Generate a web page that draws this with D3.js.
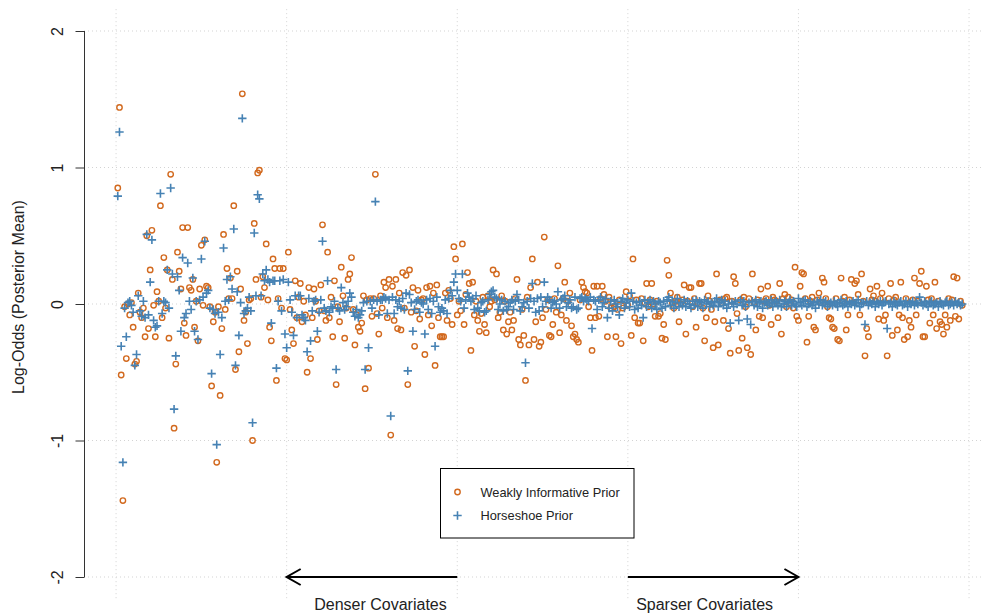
<!DOCTYPE html>
<html>
<head>
<meta charset="utf-8">
<script src="https://cdn.jsdelivr.net/npm/d3@7"></script>
<style>
  body { margin: 0; background: #fff; }
  text { font-family: "Liberation Sans", Arial, Helvetica, sans-serif; }
</style>
</head>
<body>
<svg id="chart"></svg>
<script>
// posterior means per covariate (ordered dense -> sparse)
const weakly = [
  .85, 1.44, -.52, -1.44, -.02, -.40, .00, -.08, .01, -.17,
  -.44, -.42, .08, -.06, -.10, -.03, -.24, .50, -.18, .25,
  .54, -.01, -.24, .09, .02, .72, -.10, .34, -.03, .25,
  -.25, .95, .18, -.91, -.44, .38, .24, .11, .56, -.14,
  -.23, .56, .12, .10, .18, -.17, .02, -.27, .11, .43,
  -.01, .47, .13, .12, -.02, -.60, -.13, -.06, -1.16, -.02,
  -.67, -.18, .51, -.04, .26, .04, .19, .04, .72, -.48,
  .24, -.35, .11, 1.54, -.12, -.06, -.29, .03, .04, -1.00,
  .59, .18, .96, .98, .05, .20, .12, .44, .03, -.17,
  -.27, .33, .26, -.56, .04, .26, -.03, .26, -.40, -.41,
  .38, -.04, -.19, -.29, .17, -.10, .05, .15, -.13, .02,
  -.08, -.50, .12, -.40, -.10, .11, .02, -.26, -.05, .14,
  .58, -.05, -.12, .38, -.10, .05, -.24, .17, -.59, -.02,
  -.13, .27, .06, -.25, -.03, .18, .22, .34, -.04, -.30,
  -.08, -.17, -.20, -.14, .06, -.62, .03, -.47, .04, -.09,
  .04, .95, -.07, -.22, .06, -.03, .16, .12, -.10, .18,
  -.96, .13, -.12, .18, -.18, .08, -.19, .23, -.03, .21,
  -.59, .25, -.06, .12, -.31, -.05, .10, -.11, .03, .04,
  -.37, .12, -.08, .13, -.16, .08, -.45, .14, -.10, -.24,
  -.24, -.24, .08, -.12, .10, .04, -.15, .42, .33, -.08,
  .02, -.05, .44, -.15, .07, .23, .15, -.34, .16, -.08,
  .02, -.12, -.20, -.07, .05, -.15, -.21, .06, -.02, .02,
  .25, .03, .22, -.10, -.06, .06, -.19, .02, -.22, -.13,
  -.06, -.19, -.12, .04, .18, -.26, -.30, -.04, -.23, -.56,
  .05, -.30, .12, .33, -.26, -.13, .16, -.31, -.28, -.10,
  .49, -.04, .03, -.23, -.24, -.15, .04, -.06, .28, -.21,
  -.08, .04, .16, -.12, .02, .08, -.16, -.24, -.22, -.26,
  -.28, .03, .16, .12, .09, .08, -.02, -.10, -.34, .13,
  -.10, .13, -.09, .04, .13, .07, .02, -.24, .05, -.03,
  .01, -.02, -.24, -.04, .03, -.29, -.03, .02, .09, -.01,
  .06, -.23, .33, -.10, .03, -.14, -.14, .04, -.27, .01,
  .15, -.02, .03, .15, .00, -.09, .02, -.09, -.07, -.25,
  -.15, -.26, .32, .21, .08, .01, -.03, .02, .05, -.13,
  .00, .03, .14, -.22, .02, .12, .12, -.02, .04, -.17,
  .01, .15, .15, -.03, -.27, -.10, .06, .02, -.04, -.32,
  -.13, .22, -.30, .03, .01, -.12, .04, .05, -.18, -.36,
  .02, .20, .15, -.07, -.34, .03, -.25, .05, -.02, -.32,
  .04, -.37, .22, .01, -.19, .03, -.09, .11, -.10, .02,
  .04, .13, -.01, -.15, .05, .03, .02, -.10, .15, -.22,
  .04, .07, -.02, .05, .01, .03, -.03, .27, -.09, -.12,
  .13, .23, .22, .04, -.28, -.09, .02, .05, -.17, -.19,
  .03, .08, .01, .19, .16, .04, -.02, -.10, -.11, -.17,
  -.18, .04, -.26, -.27, .19, .02, .05, -.19, -.08, .03,
  .18, .01, .15, .17, .07, -.08, .22, .02, -.38, -.18,
  -.24, .11, .03, .06, .02, .13, -.11, .04, .08, -.12,
  -.08, -.38, .04, .15, -.23, .03, .05, -.19, -.08, .16,
  -.10, -.26, .04, -.24, -.12, -.17, .03, .19, -.08, .02,
  .15, .24, -.24, -.24, .13, .03, -.14, .04, -.08, .16,
  -.18, .02, -.13, -.15, -.22, -.08, -.17, .04, -.12, .03,
  .20, -.09, .19, -.11, .02, -.01
];

const horseshoe = [
  .79, 1.26, -.31, -1.16, -.03, -.24, .01, .02, -.01, -.06,
  -.45, -.37, .06, -.05, -.09, .02, -.10, .51, -.08, .16,
  .47, -.12, -.17, -.16, .02, .81, -.07, .02, .01, .25,
  -.03, .85, .22, -.77, -.38, .20, .10, -.20, .34, -.10,
  -.07, .30, .02, -.04, .19, -.20, .02, -.26, .03, .33,
  .05, .46, .08, .10, -.03, -.51, -.04, -.07, -1.03, -.06,
  -.37, -.10, .41, .02, .18, .03, .20, .11, .55, -.45,
  .09, -.23, .01, 1.36, -.07, -.05, -.03, .05, -.05, -.87,
  .52, .06, .80, .77, .06, .22, .17, .25, .18, .16,
  -.14, .17, .17, -.47, .02, .17, -.05, .18, -.22, -.32,
  .16, .03, -.06, -.23, .06, -.10, .06, .06, -.08, -.10,
  -.12, -.35, .04, -.27, -.05, .02, .03, -.20, -.06, .03,
  .46, -.03, -.05, .17, -.06, -.02, -.03, .02, -.48, -.03,
  -.05, .12, .01, -.04, -.02, .02, .08, .05, -.06, -.09,
  -.04, -.10, -.08, -.05, .01, -.48, .02, -.32, .02, -.03,
  .03, .75, .02, -.08, .03, .03, .05, .04, -.07, .03,
  -.82, .05, -.07, .03, -.02, .02, -.03, .04, -.04, .08,
  -.49, .07, .01, -.20, -.04, .02, .03, -.06, .01, .00,
  -.22, .03, -.04, .04, -.07, .02, -.31, .05, -.02, -.06,
  -.03, -.05, .03, -.07, .04, .10, .06, .16, .22, .10,
  .04, .02, .22, -.03, .03, .08, .05, .02, .04, -.04,
  .06, -.03, -.05, .01, .02, -.06, -.05, .03, .07, .09,
  .10, .05, .04, -.04, .00, .03, -.05, .02, -.04, -.02,
  .01, .03, -.04, .02, .07, .03, -.05, -.02, .01, -.43,
  .02, -.03, .04, .15, .02, -.06, .04, -.05, .05, -.02,
  .16, .02, .05, .03, -.03, .01, .02, .00, .09, -.03,
  .03, .04, .06, -.02, .01, .03, -.03, -.02, .05, -.04,
  -.03, .04, .05, .02, .04, .03, .02, .05, -.18, .03,
  .02, -.04, .03, .05, -.02, .01, .04, -.10, -.03, .02,
  -.05, .03, .00, -.02, -.08, .02, .04, -.03, .01, .03,
  -.02, .08, .02, -.04, .01, -.03, .02, -.01, -.10, .03,
  -.02, .01, .03, -.03, .02, .00, -.04, .02, .01, -.03,
  .02, -.02, .03, .05, -.01, .02, -.03, .01, .04, -.02,
  .01, -.01, .03, -.02, .02, .00, -.03, .02, -.01, .03,
  -.02, .02, .01, -.03, .03, .00, .02, -.02, .01, -.01,
  .02, .04, -.02, .01, .03, -.01, .02, -.03, .00, -.14,
  .01, -.02, .02, .00, -.12, .03, -.01, .02, -.02, -.11,
  .01, -.15, .02, -.01, .03, -.02, .01, .02, -.03, .01,
  .02, -.01, .00, .03, -.02, .01, .02, -.01, .03, -.02,
  .00, .02, -.02, .01, .03, -.01, .02, .00, -.02, .04,
  .01, -.01, .02, .03, -.02, .00, .02, -.01, .01, -.03,
  .02, .00, .03, -.01, .01, .02, -.02, .00, .01, -.01,
  .02, .00, -.02, .01, .03, -.01, .00, .02, -.02, .01,
  .00, .02, -.01, .01, .03, -.02, .00, .01, -.15, .02,
  -.01, .01, .00, .02, -.02, .01, .00, .02, -.01, .01,
  .02, -.18, .00, .01, -.02, .02, .00, -.01, .01, .02,
  -.01, .00, .02, -.02, .01, .00, .02, -.01, .01, .00,
  .05, .01, -.01, .02, .00, -.02, .01, .02, -.01, .00,
  .01, -.02, .02, .00, -.01, .01, .02, -.01, .00, .01,
  -.01, .02, .00, .01, -.01, .00
];

const yTicks = [-2, -1, 0, 1, 2];
const xGrid = [0, 100, 200, 300, 400, 500];
const seriesNames = ["Weakly Informative Prior", "Horseshoe Prior"];
const seriesColors = ["#D2691E", "#4682B4"];
const arrowSpans = [[200, 100], [300, 400]];   // from -> to, in covariate index
const arrowLabels = ["Denser Covariates", "Sparser Covariates"];
const arrowLabelAt = [155, 345];

const width = 984, height = 613;
const n = weakly.length;
const pad = 0.04 * (n - 1);

const svg = d3.select("#chart")
  .attr("width", width)
  .attr("height", height);

svg.append("rect").attr("width", width).attr("height", height).attr("fill", "#fff");

const x = d3.scaleLinear().domain([1 - pad, n + pad]).range([84, 996]);
const y = d3.scaleLinear().domain([-2, 2]).range([577, 31]);
const yTop = y(2.16), yBot = y(-2.16);

// grid
svg.append("g").selectAll("line")
  .data(xGrid)
  .join("line")
  .attr("x1", d => x(d)).attr("x2", d => x(d))
  .attr("y1", yTop).attr("y2", yBot)
  .attr("stroke", "#d3d3d3").attr("stroke-dasharray", "1,3");

svg.append("g").selectAll("line")
  .data(yTicks)
  .join("line")
  .attr("x1", x.range()[0]).attr("x2", x.range()[1])
  .attr("y1", d => y(d)).attr("y2", d => y(d))
  .attr("stroke", "#d3d3d3").attr("stroke-dasharray", "1,3");

// y axis (plain hyphen minus, like base R)
const yAxis = d3.axisLeft(y).tickValues(yTicks).tickSize(9).tickPadding(0).tickFormat(d => String(d));
const gY = svg.append("g")
  .attr("transform", "translate(" + (x.range()[0] + 0.5) + ",0)")
  .call(yAxis);
gY.select(".domain").attr("stroke", "#333").attr("d", "M0," + y(-2) + "V" + y(2));
gY.selectAll(".tick line").attr("stroke", "#333");
gY.selectAll(".tick text")
  .attr("x", null).attr("dy", null)
  .attr("transform", "translate(-22,0) rotate(-90)")
  .attr("text-anchor", "middle")
  .attr("font-size", 16)
  .attr("fill", "#222");

svg.append("text")
  .attr("transform", "translate(24,297) rotate(-90)")
  .attr("text-anchor", "middle")
  .attr("font-size", 16)
  .attr("fill", "#222")
  .text("Log-Odds (Posterior Mean)");

// points
const ptsW = weakly.map((v, i) => ({i: i + 1, v: v}));
const ptsH = horseshoe.map((v, i) => ({i: i + 1, v: v}));

svg.append("g").selectAll("circle")
  .data(ptsW)
  .join("circle")
  .attr("cx", d => x(d.i))
  .attr("cy", d => y(d.v))
  .attr("r", 2.7)
  .attr("fill", "none")
  .attr("stroke", seriesColors[0])
  .attr("stroke-width", 1.4);

const crossPath = s => "M" + (-s) + ",0H" + s + "M0," + (-s) + "V" + s;

svg.append("g").selectAll("path")
  .data(ptsH)
  .join("path")
  .attr("transform", d => "translate(" + x(d.i) + "," + y(d.v) + ")")
  .attr("d", crossPath(4.2))
  .attr("stroke", seriesColors[1])
  .attr("stroke-width", 1.6);

// arrows along the bottom
svg.append("defs").append("marker")
  .attr("id", "head")
  .attr("viewBox", "-16 -9 18 18")
  .attr("refX", 0).attr("refY", 0)
  .attr("markerWidth", 18).attr("markerHeight", 18)
  .attr("markerUnits", "userSpaceOnUse")
  .attr("orient", "auto")
  .append("path")
  .attr("d", "M-14,-8L0,0L-14,8")
  .attr("fill", "none")
  .attr("stroke", "#000")
  .attr("stroke-width", 2);

svg.append("g").selectAll("line")
  .data(arrowSpans)
  .join("line")
  .attr("x1", d => x(d[0])).attr("x2", d => x(d[1]))
  .attr("y1", y(-2)).attr("y2", y(-2))
  .attr("stroke", "#000").attr("stroke-width", 2)
  .attr("marker-end", "url(#head)");

svg.append("g").selectAll("text")
  .data(arrowLabels)
  .join("text")
  .attr("x", (d, i) => x(arrowLabelAt[i]))
  .attr("y", 610)
  .attr("text-anchor", "middle")
  .attr("font-size", 16)
  .attr("fill", "#222")
  .text(d => d);

// legend
const lg = svg.append("g").attr("transform", "translate(440.5,468.5)");
lg.append("rect").attr("width", 193.5).attr("height", 69.5)
  .attr("fill", "#fff").attr("stroke", "#000");
seriesNames.forEach((name, k) => {
  const cy = 23.5 + k * 23.5;
  if (k === 0) {
    lg.append("circle").attr("cx", 17).attr("cy", cy).attr("r", 2.7)
      .attr("fill", "none").attr("stroke", seriesColors[0]).attr("stroke-width", 1.4);
  } else {
    lg.append("path").attr("transform", "translate(17," + cy + ")")
      .attr("d", crossPath(4.2)).attr("stroke", seriesColors[1]).attr("stroke-width", 1.6);
  }
  lg.append("text").attr("x", 40).attr("y", cy + 4.5)
    .attr("font-size", 12.8).attr("fill", "#222").text(name);
});
</script>
</body>
</html>
